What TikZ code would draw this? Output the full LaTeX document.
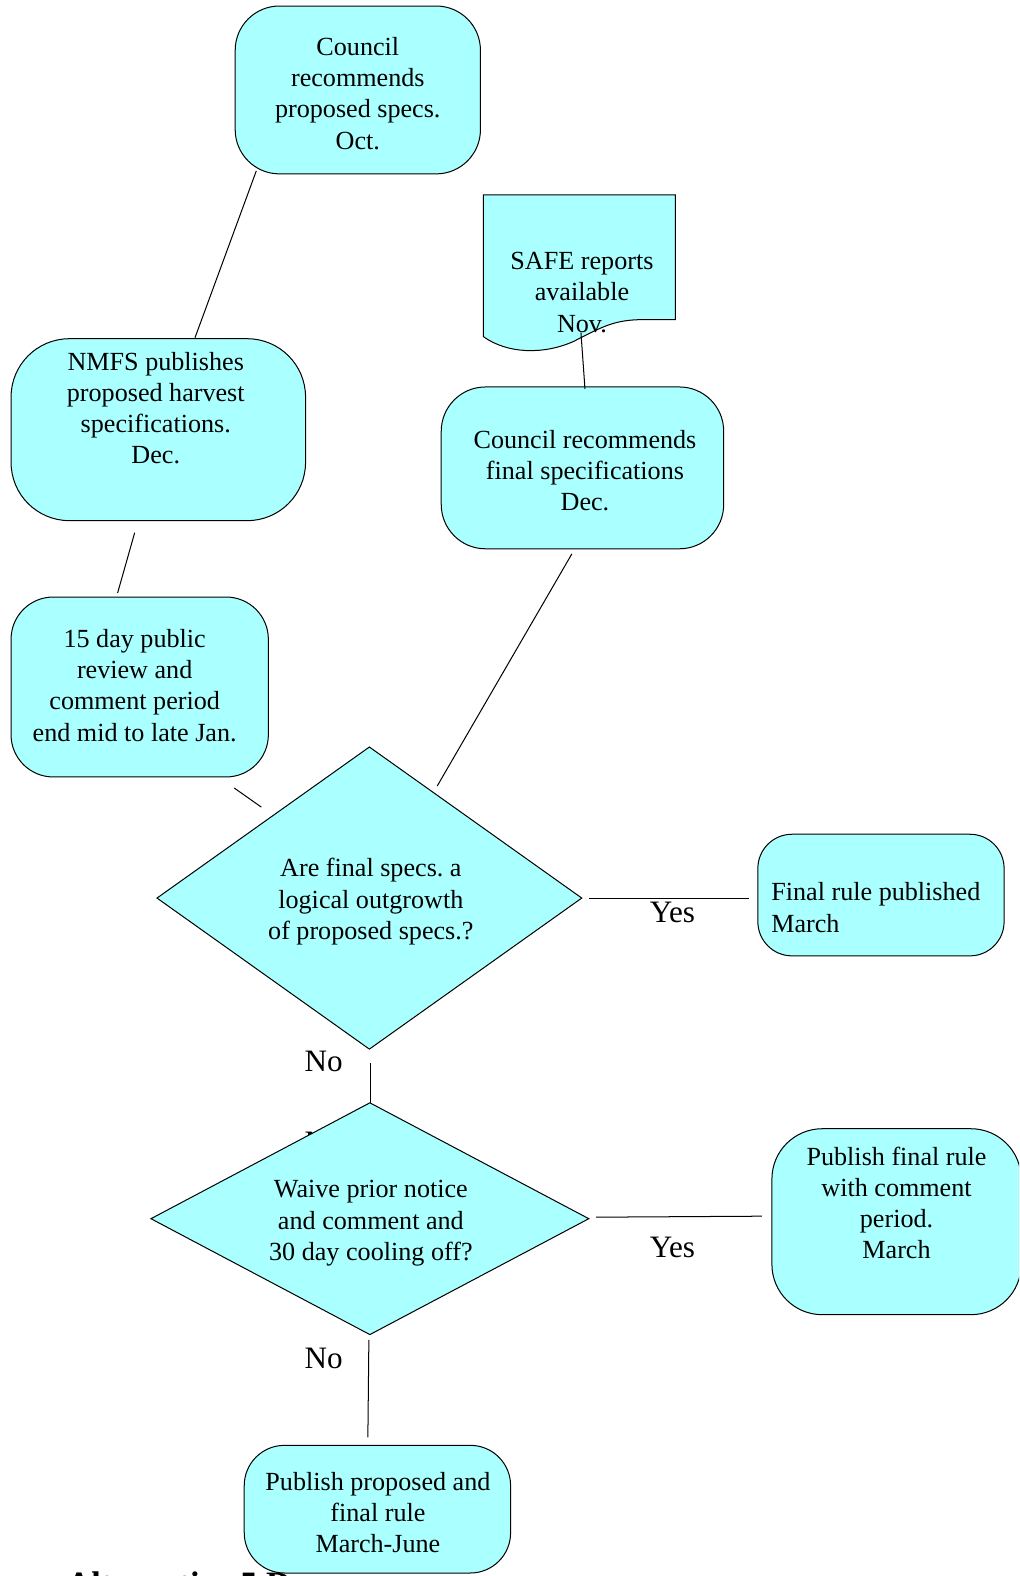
\documentclass[tikz,border=0pt]{standalone}
\usepackage{fontspec}
\setmainfont{Liberation Serif}
\usetikzlibrary{shapes.geometric}
\definecolor{boxfill}{RGB}{170,255,255}
\frenchspacing
\begin{document}
\begin{tikzpicture}[x=0.5pt,y=-0.5pt,
  shp/.style={draw=black, fill=boxfill, line width=0.5pt},
  rbox/.style={shp, rectangle, rounded corners=#1, inner sep=0pt},
  dia/.style={shp, diamond, inner sep=0pt},
  txt/.style={inner sep=0pt, align=center, font=\fontsize{13}{15.5}\selectfont},
  lbl/.style={inner sep=0pt, font=\fontsize{15.5}{18}\selectfont},
  conn/.style={draw=black, line width=0.5pt}]
\clip (0,0) rectangle (1014,1568);
% hidden texts (behind shapes)
\node[anchor=base west, inner sep=0pt, font=\fontsize{17}{20}\selectfont\bfseries] (alt) at (66,1587) {Alternative 5 D};
\node[lbl] (nohid) at (322,1137) {No};
% shapes
\node[rbox=22pt, minimum width=122pt, minimum height=83.5pt] (b1) at (356,89.5) {};
\node[rbox=29pt, minimum width=146.5pt, minimum height=90.5pt] (nmfs) at (157.5,427.5) {};
\node[rbox=22pt, minimum width=140.5pt, minimum height=80.5pt] (cf) at (579.5,465.5) {};
\node[rbox=21pt, minimum width=128pt, minimum height=89.5pt] (pr) at (139,683.5) {};
\node[rbox=17pt, minimum width=122.5pt, minimum height=60.5pt] (frp) at (876.5,890.5) {};
\node[rbox=25pt, minimum width=124pt, minimum height=92.5pt] (pf) at (892,1215.5) {};
\node[rbox=20pt, minimum width=132.5pt, minimum height=63.5pt] (pp) at (375.5,1501.5) {};
\node[dia, minimum width=211.5pt, minimum height=150.5pt] (d1) at (367.5,893.5) {};
\node[dia, minimum width=218pt, minimum height=115.5pt] (d2) at (368,1212.5) {};
\path[shp] (481,194) -- (672,194) -- (672,318) -- (640,318)
  .. controls (610,318) and (598,326) .. (570,340)
  .. controls (540,353) and (505,352) .. (481,335) -- cycle;
% texts
\node[txt] (t1) at (356,93) {Council\\recommends\\proposed specs.\\Oct.};
\node[txt] (tsafe) at (579,291) {SAFE reports\\available\\Nov.};
\node[txt] (tnmfs) at (155,406) {NMFS publishes\\proposed harvest\\specifications.\\Dec.};
\node[txt] (tcf) at (582,468) {Council recommends\\final specifications\\Dec.};
\node[txt] (tpr) at (134,682) {15 day public\\review and\\comment period\\end mid to late Jan.};
\node[txt] (td1) at (369,897) {Are final specs. a\\logical outgrowth\\of proposed specs.?};
\node[txt, align=left, anchor=west] (tfrp) at (767,903) {Final rule published\\March};
\node[txt] (td2) at (369,1217) {Waive prior notice\\and comment and\\30 day cooling off?};
\node[txt] (tpf) at (892,1197) {Publish final rule\\with comment\\period.\\March};
\node[txt] (tpp) at (376,1505) {Publish proposed and\\final rule\\March-June};
% connector ends
\coordinate (c1a) at (255,170); \coordinate (c1b) at (194,336);
\coordinate (c2a) at (578,331); \coordinate (c2b) at (582,387);
\coordinate (c3a) at (134,530); \coordinate (c3b) at (117,590);
\coordinate (c4a) at (233,784); \coordinate (c4b) at (260,803);
\coordinate (c5a) at (569,551); \coordinate (c5b) at (435,782);
\coordinate (c6a) at (586,894); \coordinate (c6b) at (745,894);
\coordinate (c7a) at (369,1058); \coordinate (c7b) at (369,1097);
\coordinate (c8a) at (593,1211); \coordinate (c8b) at (758,1210);
\coordinate (c9a) at (367,1333); \coordinate (c9b) at (366,1430);
\draw[conn] (c1a) -- (c1b);
\draw[conn] (c2a) -- (c2b);
\draw[conn] (c3a) -- (c3b);
\draw[conn] (c4a) -- (c4b);
\draw[conn] (c5a) -- (c5b);
\draw[conn] (c6a) -- (c6b);
\draw[conn] (c7a) -- (c7b);
\draw[conn] (c8a) -- (c8b);
\draw[conn] (c9a) -- (c9b);
% labels
\node[lbl] (yes1) at (669,908) {Yes};
\node[lbl] (no1) at (322,1056) {No};
\node[lbl] (yes2) at (669,1241) {Yes};
\node[lbl] (no2) at (322,1352) {No};
\end{tikzpicture}
\end{document}
